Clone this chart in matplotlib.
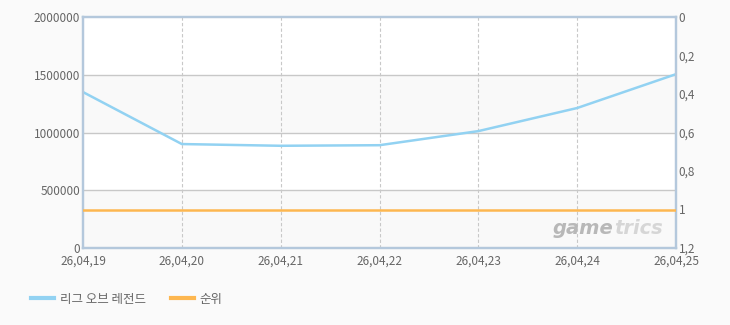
import matplotlib
matplotlib.use("Agg")
import matplotlib.pyplot as plt
from matplotlib.lines import Line2D

plt.rcParams['font.family'] = ['Noto Sans CJK KR', 'DejaVu Sans']

dates = ["26,04,19", "26,04,20", "26,04,21", "26,04,22", "26,04,23", "26,04,24", "26,04,25"]
lol_values = [1350000, 900000, 885000, 890000, 1012000, 1212000, 1505000]
rank_values = [1, 1, 1, 1, 1, 1, 1]
series_names = ["리그 오브 레전드", "순위"]
left_ticks = [0, 500000, 1000000, 1500000, 2000000]
right_ticks = [0, 0.2, 0.4, 0.6, 0.8, 1.0, 1.2]

W, H = 730, 325
fig = plt.figure(figsize=(W / 100, H / 100), dpi=100)
fig.patch.set_facecolor('#fafafa')
ax = fig.add_axes([83 / W, (H - 248) / H, (676 - 83) / W, (248 - 17) / H])
ax.set_facecolor('white')

x = list(range(len(dates)))
ax.set_xlim(0, len(dates) - 1)
ax.set_ylim(0, 2000000)
for lo in (0, 1000000):
    ax.axhspan(lo, lo + 500000, color='#f9f9f9', zorder=0, lw=0)
for t in left_ticks[1:-1]:
    ax.axhline(t, color='#c8c8c8', lw=1, zorder=1)
for xi in x[1:-1]:
    ax.axvline(xi, color='#c8c8c8', lw=0.8, ls=(0, (3, 2)), zorder=1)

ax.plot(x, lol_values, color='#92d2f2', lw=1.8, zorder=3)
ax.set_yticks(left_ticks)
ax.set_yticklabels([str(v) for v in left_ticks])
ax.set_xticks(x)
ax.set_xticklabels(dates)

ax2 = ax.twinx()
ax2.set_ylim(1.2, 0)
ax2.plot(x, rank_values, color='#fdb750', lw=1.8, zorder=3)
ax2.set_yticks(right_ticks)
ax2.set_yticklabels([("%g" % v).replace('.', ',') for v in right_ticks])

for a in (ax, ax2):
    for s in a.spines.values():
        s.set_color('#b4c8dc')
        s.set_linewidth(1.6)
    a.tick_params(length=0, labelsize=8.5, colors='#666666', pad=2)
ax.tick_params(axis='x', pad=5)

wm_y = 0.045
wm_x = 0.895
ax.text(wm_x, wm_y, "game", transform=ax.transAxes, ha='right', va='bottom',
        fontsize=14, fontstyle='italic', fontweight='bold', color='#b8b8b8',
        family='DejaVu Sans', zorder=2)
ax.text(wm_x, wm_y, "trics", transform=ax.transAxes, ha='left', va='bottom',
        fontsize=14, fontstyle='italic', fontweight='bold', color='#d6d6d6',
        family='DejaVu Sans', zorder=2)

handles = [Line2D([], [], color='#92d2f2', lw=3), Line2D([], [], color='#fdb750', lw=3)]
fig.legend(handles, series_names, loc='center left', bbox_to_anchor=(20 / W, 1 - 299 / H),
           ncol=2, frameon=False, fontsize=9, handlelength=1.8, handletextpad=0.5,
           columnspacing=2.0, labelcolor='#666666')

fig.savefig('out.png', dpi=100, facecolor=fig.get_facecolor())
